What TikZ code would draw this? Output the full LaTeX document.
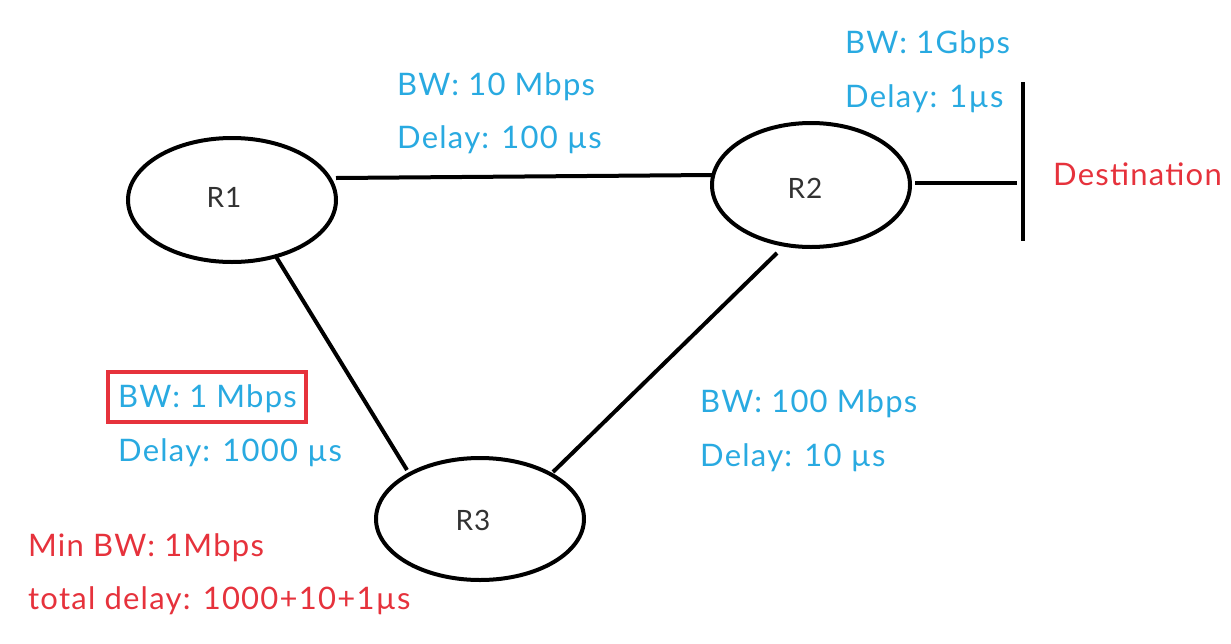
\documentclass[tikz,border=0pt]{standalone}
\usepackage{fontspec}
\setmainfont{Lato}[LetterSpace=4]
\usetikzlibrary{shapes.geometric,calc}
\definecolor{lblue}{RGB}{41,170,225}
\definecolor{lred}{RGB}{230,50,60}
\definecolor{dgrey}{RGB}{50,50,50}
\begin{document}
\begin{tikzpicture}[x=1pt,y=-1pt,
  router/.style={draw=black,line width=4pt,ellipse,inner sep=0pt},
  link/.style={draw=black,line width=4pt},
  bl/.style={text=lblue,anchor=base west,inner sep=0pt,font=\fontsize{31}{31}\selectfont},
  rd/.style={text=lred,anchor=base west,inner sep=0pt,font=\fontsize{31}{31}\selectfont},
  rl/.style={text=dgrey,anchor=base,inner sep=0pt,font=\fontsize{28}{28}\selectfont}]
\useasboundingbox[fill=white] (0,0) rectangle (1231,643);
\node[router,minimum width=208pt,minimum height=124pt] (R1) at (232,200) {};
\node[router,minimum width=198pt,minimum height=124pt] (R2) at (811,185) {};
\node[router,minimum width=208pt,minimum height=122pt] (R3) at (480,519) {};
\node[rl] (t1) at (224,207) {R1};
\node[rl] (t2) at (805,198) {R2};
\node[rl] (t3) at (473,530) {R3};
\coordinate (d1) at (1023,82);
\coordinate (d2) at (1023,241);
\coordinate (dm) at (1017,183);
\draw[link] (d1) -- (d2);
\draw[link] ($(R1.center)+(104,-22)$) -- ($(R2.center)+(-99,-10)$);
\draw[link] ($(R1.center)+(43,55)$) -- ($(R3.center)+(-73,-49)$);
\draw[link] ($(R2.center)+(-34,68)$) -- ($(R3.center)+(73,-47)$);
\draw[link] ($(R2.center)+(104,-2)$) -- (dm);
\node[bl] (l1) at (397,95) {BW: 10 Mbps};
\node[bl] (l2) at (397,148) {Delay: 100 µs};
\node[bl] (l3) at (845,53) {BW: 1Gbps};
\node[bl] (l4) at (845,107) {Delay: 1µs};
\node[rd] (dest) at (1053,185) {Destination};
\node[bl] (l5) at (118,407) {BW: 1 Mbps};
\draw[lred,line width=4pt] (108,372) rectangle (306,422);
\node[bl] (l6) at (118,461) {Delay: 1000 µs};
\node[bl] (l7) at (700,412) {BW: 100 Mbps};
\node[bl] (l8) at (700,466) {Delay: 10 µs};
\node[rd] (m1) at (28,556) {Min BW: 1Mbps};
\node[rd] (m2) at (28,609) {total delay: 1000+10+1µs};
\end{tikzpicture}
\end{document}
